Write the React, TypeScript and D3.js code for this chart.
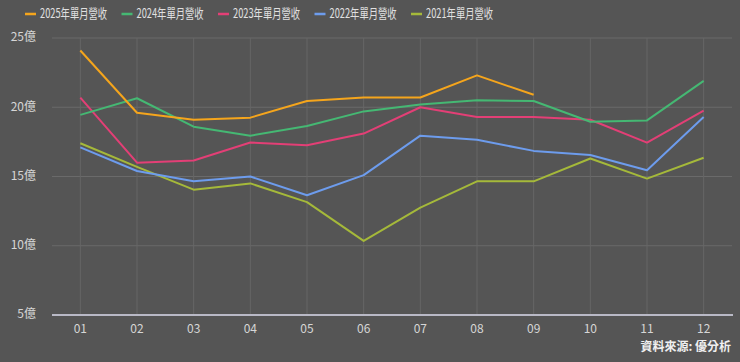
import React, { useEffect, useRef } from 'react';
import * as d3 from 'd3';

const months = ['01', '02', '03', '04', '05', '06', '07', '08', '09', '10', '11', '12'];
const yTicks = [5, 10, 15, 20, 25];

const rev2025 = [24.1, 19.6, 19.1, 19.25, 20.45, 20.7, 20.7, 22.3, 20.9];
const rev2024 = [19.45, 20.65, 18.6, 17.95, 18.65, 19.7, 20.2, 20.5, 20.45, 18.95, 19.05, 21.9];
const rev2023 = [20.7, 16.0, 16.15, 17.45, 17.25, 18.1, 20.0, 19.3, 19.3, 19.1, 17.45, 19.75];
const rev2022 = [17.1, 15.4, 14.65, 15.0, 13.65, 15.1, 17.95, 17.65, 16.85, 16.55, 15.45, 19.3];
const rev2021 = [17.4, 15.7, 14.05, 14.5, 13.15, 10.35, 12.75, 14.65, 14.65, 16.3, 14.85, 16.35];

const seriesNames = ['2025年單月營收', '2024年單月營收', '2023年單月營收', '2022年單月營收', '2021年單月營收'];
const seriesColors = ['#f5a51c', '#45b873', '#e33f76', '#6d9ced', '#a5b93a'];

const W = 740;
const H = 362;
const FONT = '"Noto Sans CJK TC", "Noto Sans", sans-serif';

export default function App() {
  const svgRef = useRef<SVGSVGElement>(null);

  useEffect(() => {
    if (!svgRef.current) return;
    const svg = d3.select(svgRef.current);
    svg.selectAll('*').remove();

    const margin = { top: 38, right: 8, bottom: 47, left: 52 };
    const innerW = W - margin.left - margin.right;
    const innerH = H - margin.top - margin.bottom;

    svg.append('rect').attr('width', W).attr('height', H).attr('fill', '#555555');

    const g = svg.append('g').attr('transform', `translate(${margin.left},${margin.top})`);

    const x = d3.scaleBand().domain(months).range([0, innerW]);
    const y = d3.scaleLinear().domain([5, 25]).range([innerH, 0]);
    const cx = (m: string) => (x(m) as number) + x.bandwidth() / 2;

    // 橫向格線
    g.selectAll('.hgrid')
      .data(yTicks.filter(t => t !== 5))
      .enter()
      .append('line')
      .attr('x1', 0)
      .attr('x2', innerW)
      .attr('y1', d => y(d))
      .attr('y2', d => y(d))
      .attr('stroke', '#6a6a6a')
      .attr('stroke-width', 1);

    // 縱向格線
    g.selectAll('.vgrid')
      .data(months)
      .enter()
      .append('line')
      .attr('x1', d => cx(d))
      .attr('x2', d => cx(d))
      .attr('y1', 0)
      .attr('y2', innerH)
      .attr('stroke', '#666666')
      .attr('stroke-width', 1);

    // Y 軸標籤
    g.selectAll('.ylab')
      .data(yTicks)
      .enter()
      .append('text')
      .attr('x', -16)
      .attr('y', d => y(d))
      .attr('text-anchor', 'end')
      .attr('dominant-baseline', 'middle')
      .style('font-family', FONT)
      .style('font-size', '12px')
      .style('fill', '#d6d6d6')
      .text(d => `${d}億`);

    // X 軸線
    g.append('line')
      .attr('x1', 0)
      .attr('x2', innerW + 1)
      .attr('y1', innerH)
      .attr('y2', innerH)
      .attr('stroke', '#b9b9c6')
      .attr('stroke-width', 2);

    g.selectAll('.xlab')
      .data(months)
      .enter()
      .append('text')
      .attr('x', d => cx(d))
      .attr('y', innerH + 15)
      .attr('text-anchor', 'middle')
      .attr('dominant-baseline', 'middle')
      .style('font-family', FONT)
      .style('font-size', '12px')
      .style('fill', '#d6d6d6')
      .text(d => d);

    // 折線
    const allSeries = [rev2025, rev2024, rev2023, rev2022, rev2021];
    const line = d3.line<number>()
      .x((_, i) => cx(months[i]))
      .y(d => y(d));

    [...allSeries].reverse().forEach((vals, ri) => {
      const i = allSeries.length - 1 - ri;
      g.append('path')
        .attr('d', line(vals))
        .attr('fill', 'none')
        .attr('stroke', seriesColors[i])
        .attr('stroke-width', 2)
        .attr('stroke-linejoin', 'round');
    });

    // 圖例
    const legend = svg.append('g').attr('transform', 'translate(25,14)');
    seriesNames.forEach((name, i) => {
      const lg = legend.append('g').attr('transform', `translate(${i * 96.5},0)`);
      lg.append('line')
        .attr('x1', 0)
        .attr('x2', 11)
        .attr('y1', 0)
        .attr('y2', 0)
        .attr('stroke', seriesColors[i])
        .attr('stroke-width', 2.5);
      lg.append('text')
        .attr('x', 15)
        .attr('y', 0)
        .attr('dominant-baseline', 'middle')
        .attr('textLength', 67)
        .attr('lengthAdjust', 'spacingAndGlyphs')
        .style('font-family', FONT)
        .style('font-size', '13px')
        .style('fill', '#e0e0e0')
        .text(name);
    });

    // 資料來源
    svg.append('text')
      .attr('x', 731)
      .attr('y', 348)
      .attr('text-anchor', 'end')
      .attr('dominant-baseline', 'middle')
      .style('font-family', FONT)
      .style('font-size', '12px')
      .style('font-weight', 'bold')
      .style('fill', '#f0f0f0')
      .text('資料來源: 優分析');
  }, []);

  return (
    <div style={{ position: 'absolute', left: 0, top: 0 }}>
      <svg ref={svgRef} width={W} height={H} style={{ display: 'block' }} />
    </div>
  );
}
